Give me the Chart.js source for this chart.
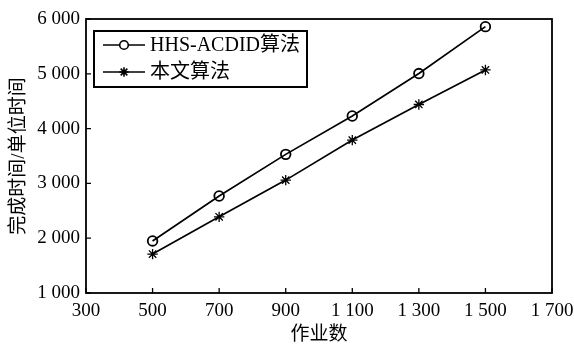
<!DOCTYPE html>
<html>
<head>
<meta charset="utf-8">
<script src="https://cdn.jsdelivr.net/npm/chart.js@4/dist/chart.umd.min.js"></script>
<style>
  html, body { margin: 0; padding: 0; background: #fff; }
  #wrap { width: 574px; height: 346px; }
</style>
</head>
<body>
<div id="wrap"><canvas id="chart"></canvas></div>
<script>
// values
const jobCounts = [500, 700, 900, 1100, 1300, 1500];
const hhsTimes = [1950, 2770, 3530, 4230, 5005, 5860];
const oursTimes = [1710, 2390, 3060, 3790, 4440, 5070];
const seriesNames = ["HHS-ACDID算法", "本文算法"];

const xTickValues = [300, 500, 700, 900, 1100, 1300, 1500, 1700];
const xTickLabels = ["300", "500", "700", "900", "1 100", "1 300", "1 500", "1 700"];
const yTickValues = [1000, 2000, 3000, 4000, 5000, 6000];
const yTickLabels = ["1 000", "2 000", "3 000", "4 000", "5 000", "6 000"];

const FONT = "'Liberation Serif', 'Times New Roman', 'Noto Sans CJK SC', serif";

function toPoints(xs, ys) {
    return xs.map((x, i) => ({ x: x, y: ys[i] }));
}

// frame, inward ticks and the boxed legend
const framePlugin = {
    id: "frame",
    afterDatasetsDraw(chart) {
        const ctx = chart.ctx;
        const a = chart.chartArea;
        const xs = chart.scales.x;
        const ys = chart.scales.y;
        ctx.save();
        ctx.strokeStyle = "#000";
        ctx.lineWidth = 1.8;
        ctx.strokeRect(a.left, a.top, a.right - a.left, a.bottom - a.top);

        ctx.lineWidth = 1.3;
        ctx.beginPath();
        xTickValues.forEach((v) => {
            const px = xs.getPixelForValue(v);
            ctx.moveTo(px, a.bottom);
            ctx.lineTo(px, a.bottom - 5);
        });
        yTickValues.forEach((v) => {
            const py = ys.getPixelForValue(v);
            ctx.moveTo(a.left, py);
            ctx.lineTo(a.left + 5, py);
        });
        ctx.stroke();

        // legend
        const bx = a.left + 8, by = a.top + 12, bw = 213, bh = 56;
        ctx.lineWidth = 2;
        ctx.fillStyle = "#fff";
        ctx.fillRect(bx, by, bw, bh);
        ctx.strokeRect(bx, by, bw, bh);
        ctx.font = "20px " + FONT;
        ctx.textBaseline = "middle";
        chart.data.datasets.forEach((ds, i) => {
            const cy = by + 14 + i * 27;
            ctx.strokeStyle = "#000";
            ctx.lineWidth = 1.6;
            ctx.beginPath();
            ctx.moveTo(bx + 9, cy);
            ctx.lineTo(bx + 51, cy);
            ctx.stroke();
            Chart.helpers.drawPoint(ctx, {
                pointStyle: ds.pointStyle,
                radius: ds.pointRadius - 0.5,
                borderWidth: ds.pointBorderWidth,
                rotation: 0
            }, bx + 30, cy);
            ctx.fillStyle = "#000";
            ctx.fillText(ds.label, bx + 56, cy + 1);
        });
        ctx.restore();
    }
};

new Chart(document.getElementById("chart"), {
    type: "line",
    data: {
        datasets: [
            {
                label: seriesNames[0],
                data: toPoints(jobCounts, hhsTimes),
                borderColor: "#000",
                backgroundColor: "#fff",
                borderWidth: 1.7,
                pointStyle: "circle",
                pointRadius: 4.8,
                pointBorderWidth: 1.8,
                pointBorderColor: "#000",
                pointBackgroundColor: "rgba(255,255,255,0)",
                tension: 0
            },
            {
                label: seriesNames[1],
                data: toPoints(jobCounts, oursTimes),
                borderColor: "#000",
                backgroundColor: "#000",
                borderWidth: 1.7,
                pointStyle: "star",
                pointRadius: 5.2,
                pointBorderWidth: 1.3,
                pointBorderColor: "#000",
                tension: 0
            }
        ]
    },
    options: {
        responsive: true,
        maintainAspectRatio: false,
        animation: false,
        layout: { padding: { left: 0, right: 0, top: 19, bottom: 0 } },
        plugins: {
            legend: { display: false },
            tooltip: { enabled: false }
        },
        scales: {
            x: {
                type: "linear",
                min: 300,
                max: 1700,
                afterBuildTicks: (scale) => {
                    scale.ticks = xTickValues.map((v) => ({ value: v }));
                },
                afterFit: (scale) => {
                    scale.height = 53;
                    scale.paddingRight = 22;
                },
                grid: { display: false, drawTicks: false },
                border: { display: false },
                ticks: {
                    color: "#000",
                    padding: 7,
                    maxRotation: 0,
                    font: { family: FONT, size: 19 },
                    callback: (v) => xTickLabels[xTickValues.indexOf(v)]
                },
                title: {
                    display: true,
                    text: "作业数",
                    color: "#000",
                    padding: { top: 0, bottom: 0 },
                    font: { family: FONT, size: 19 }
                }
            },
            y: {
                type: "linear",
                min: 1000,
                max: 6000,
                afterBuildTicks: (scale) => {
                    scale.ticks = yTickValues.map((v) => ({ value: v }));
                },
                afterFit: (scale) => { scale.width = 86; },
                grid: { display: false, drawTicks: false },
                border: { display: false },
                ticks: {
                    color: "#000",
                    padding: 6,
                    font: { family: FONT, size: 19 },
                    callback: (v) => yTickLabels[yTickValues.indexOf(v)]
                },
                title: {
                    display: true,
                    text: "完成时间/单位时间",
                    color: "#000",
                    padding: { top: 8, bottom: 0 },
                    font: { family: FONT, size: 19 }
                }
            }
        }
    },
    plugins: [framePlugin]
});
</script>
</body>
</html>
